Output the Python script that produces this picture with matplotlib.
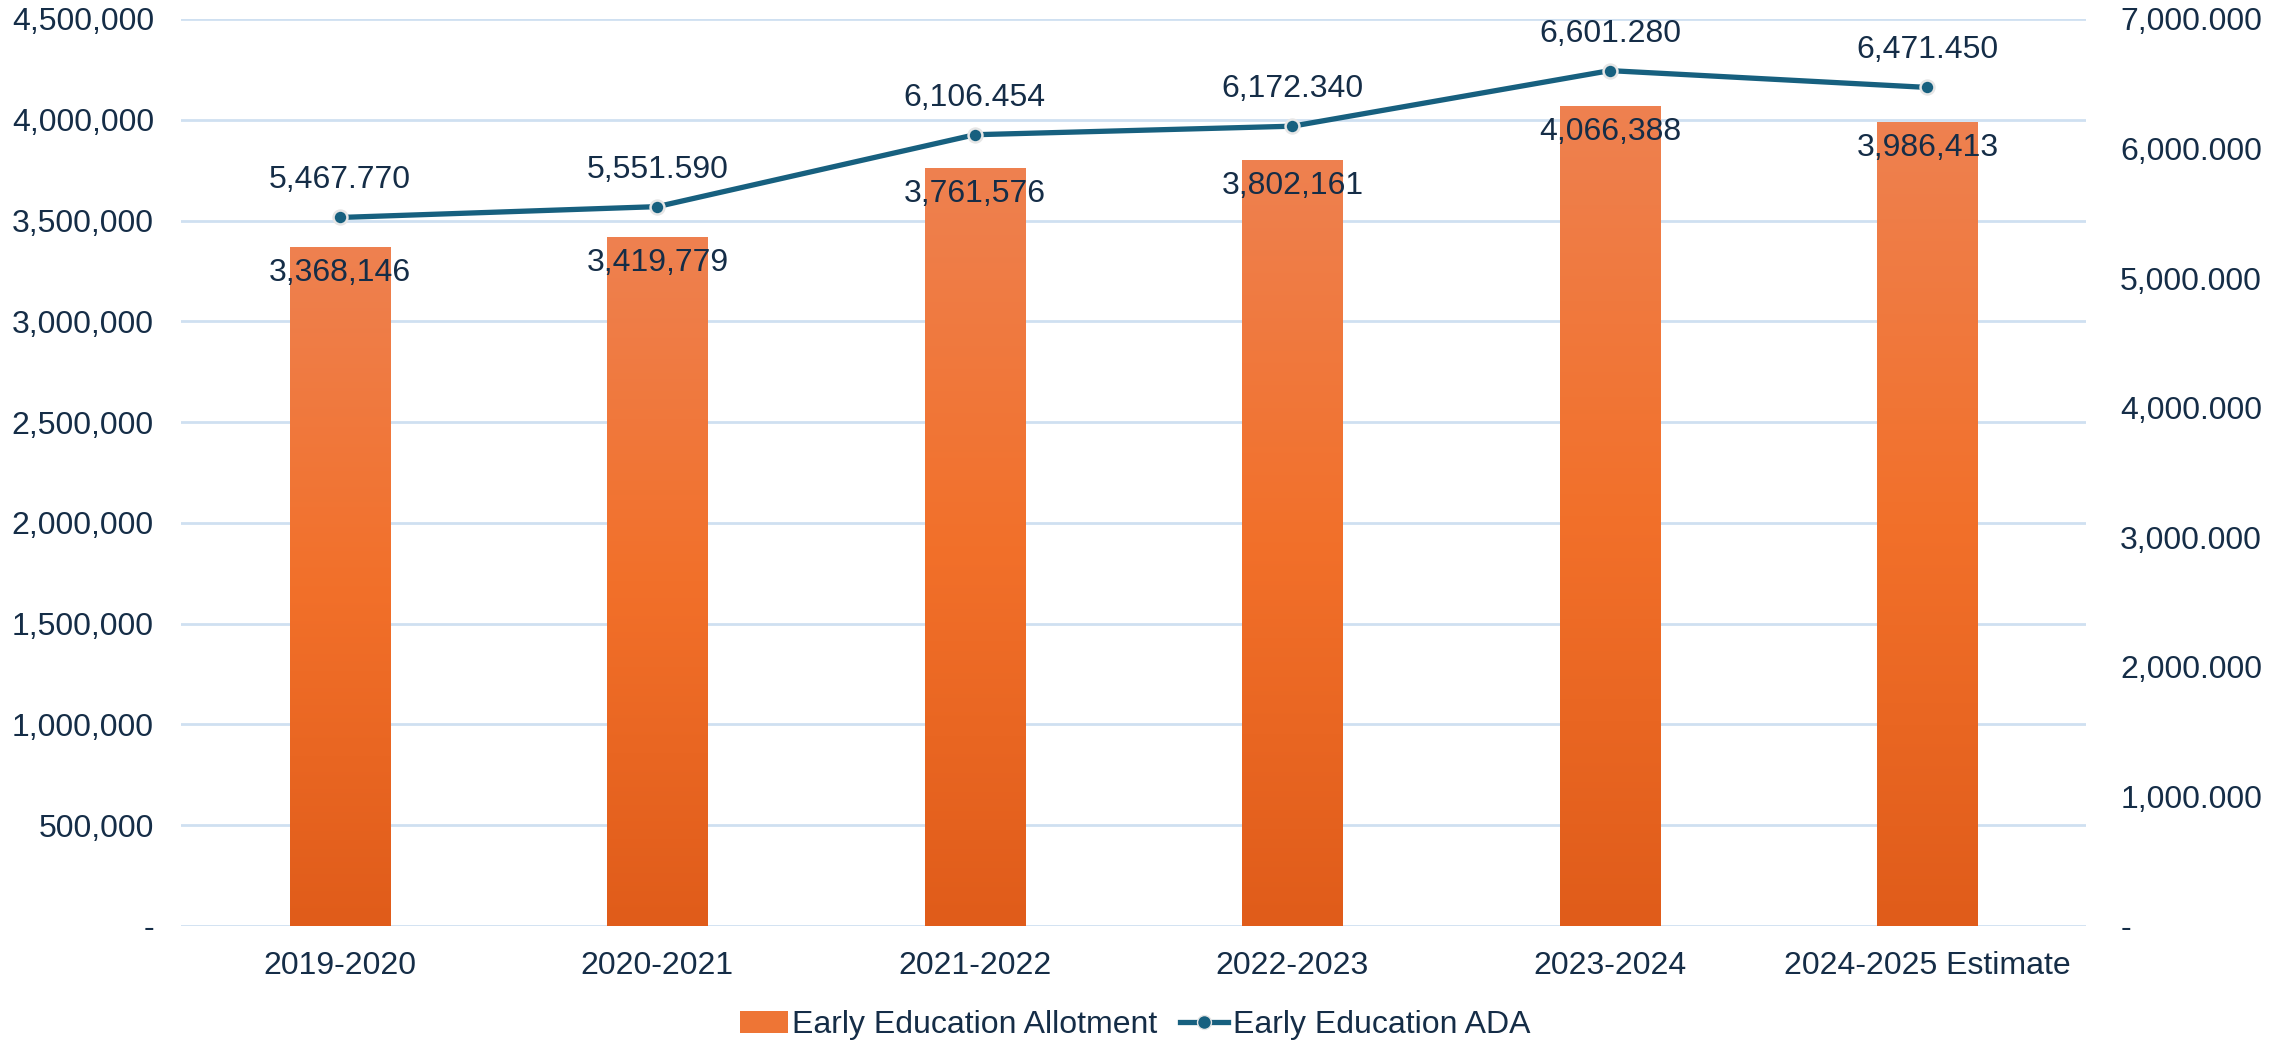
import numpy as np
import matplotlib
matplotlib.use("Agg")
import matplotlib.pyplot as plt
from matplotlib.colors import LinearSegmentedColormap
from matplotlib.patches import Patch
from matplotlib.lines import Line2D
from matplotlib.ticker import FuncFormatter, MultipleLocator

plt.rcParams['font.family'] = ['Liberation Sans', 'DejaVu Sans']

years = ["2019-2020", "2020-2021", "2021-2022", "2022-2023", "2023-2024", "2024-2025 Estimate"]
allotment = [3368146, 3419779, 3761576, 3802161, 4066388, 3986413]
ada = [5467.770, 5551.590, 6106.454, 6172.340, 6601.280, 6471.450]

text_color = '#152D47'
line_color = '#17607F'
grid_color = '#CFE0F1'
fs = 23

fig = plt.figure(figsize=(22.95, 10.47), dpi=100)
ax1 = fig.add_axes([0.0789, 0.1156, 0.8301, 0.8663])
ax2 = ax1.twinx()

x = np.arange(len(years))
bw = 0.315
bars = ax1.bar(x, allotment, width=bw, color='none', zorder=2)

# vertical gradient on each bar
cmap = LinearSegmentedColormap.from_list('bar', ['#E05C1A', '#F2702A', '#EE8150'])
grad = np.linspace(0, 1, 256).reshape(-1, 1)
for b in bars:
    bx, by = b.get_x(), b.get_y()
    h = b.get_height()
    im = ax1.imshow(grad, cmap=cmap, origin='lower', aspect='auto',
                    extent=(bx, bx + bw, by, by + h), zorder=2)
    im.set_clip_path(b)

ax1.set_xlim(-0.5, len(years) - 0.5)
ax1.set_ylim(0, 4500000)
ax1.yaxis.set_major_locator(MultipleLocator(500000))
ax1.yaxis.set_major_formatter(FuncFormatter(lambda v, p: '-' if v == 0 else f'{v:,.0f}'))
ax1.grid(axis='y', color=grid_color, linewidth=2, zorder=0)
ax1.set_axisbelow(True)
ax1.set_xticks(x)
ax1.set_xticklabels(years)

ax2.set_ylim(0, 7000)
ax2.yaxis.set_major_locator(MultipleLocator(1000))
ax2.yaxis.set_major_formatter(FuncFormatter(lambda v, p: '-' if v == 0 else f'{v:,.3f}'))

for a in (ax1, ax2):
    for s in a.spines.values():
        s.set_visible(False)
    a.tick_params(length=0, labelsize=fs, labelcolor=text_color)
ax1.tick_params(axis='y', pad=19.5)
ax1.tick_params(axis='x', pad=18)
ax2.tick_params(axis='y', pad=24.5)

ax2.plot(x, ada, color=line_color, linewidth=3.8, marker='o', markersize=10,
         markerfacecolor=line_color, markeredgecolor='#E6E6E6', markeredgewidth=1.8,
         zorder=5)

for xi, v in zip(x, allotment):
    ax1.annotate(f'{v:,.0f}', (xi, v), xytext=(0, -26), textcoords='offset pixels',
                 ha='center', va='center', fontsize=fs, color=text_color, zorder=6)
for xi, v in zip(x, ada):
    ax2.annotate(f'{v:,.3f}', (xi, v), xytext=(0, 37), textcoords='offset pixels',
                 ha='center', va='center', fontsize=fs, color=text_color, zorder=6)

handles = [Patch(facecolor='#EE7535', edgecolor='none'),
           Line2D([], [], color=line_color, linewidth=3.8, marker='o', markersize=10,
                  markerfacecolor=line_color, markeredgecolor='#E6E6E6')]
fig.legend(handles, ['Early Education Allotment', 'Early Education ADA'],
           loc='center', bbox_to_anchor=(0.4945, 0.021), ncol=2, frameon=False,
           fontsize=fs, labelcolor=text_color, handlelength=1.5, handletextpad=0.15,
           columnspacing=0.7)

fig.savefig('out.png', dpi=100)
